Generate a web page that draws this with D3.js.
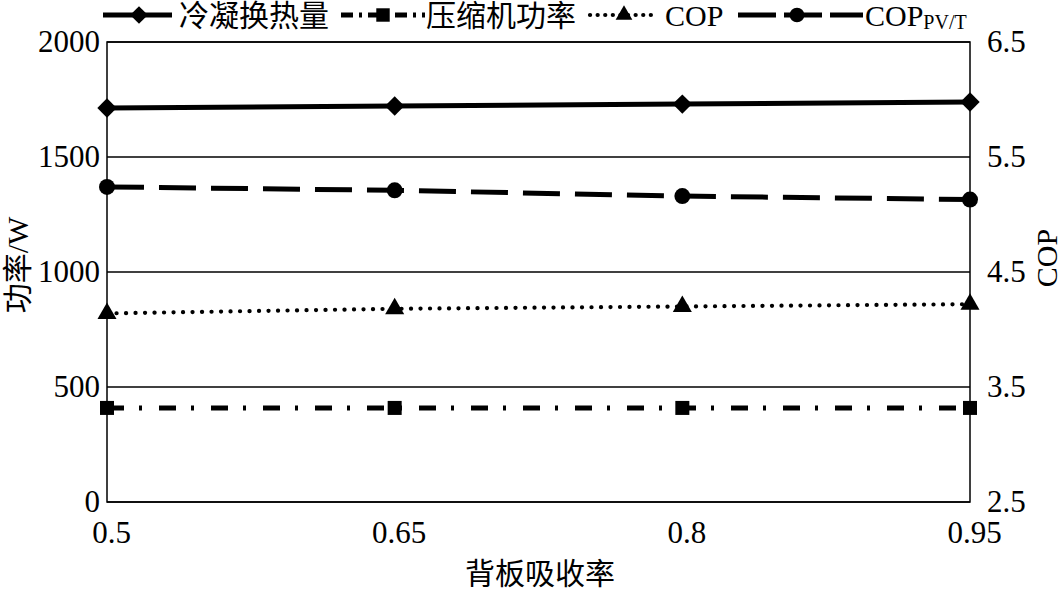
<!DOCTYPE html>
<html><head><meta charset="utf-8">
<script src="https://cdn.jsdelivr.net/npm/d3@7"></script>
<style>
html,body{margin:0;padding:0;background:#fff;}
svg text{font-family:"Liberation Serif","Times New Roman","Noto Sans CJK SC",serif;fill:#000;}
</style></head>
<body>
<svg id="chart" width="1064" height="592"></svg>
<script>
const xValues = [0.5, 0.65, 0.8, 0.95];
const xTickLabels = ["0.5", "0.65", "0.8", "0.95"];
const condenserHeat = [1713, 1722, 1730, 1739];
const compressorPower = [409, 409, 409, 409];
const cop = [4.14, 4.18, 4.20, 4.22];
const copPVT = [5.24, 5.21, 5.16, 5.13];
const leftTicks = [0, 500, 1000, 1500, 2000];
const rightTicks = [2.5, 3.5, 4.5, 5.5, 6.5];
const rightTickLabels = ["2.5", "3.5", "4.5", "5.5", "6.5"];
const seriesNames = ["冷凝换热量", "压缩机功率", "COP", "COP"];

const FONT = '"Liberation Serif","Times New Roman","Noto Sans CJK SC",serif';
const svg = d3.select("#chart");
const L = 107, R = 970, T = 42, B = 502;
const x = d3.scaleLinear().domain([0.5, 0.95]).range([L, R]);
const yL = d3.scaleLinear().domain([0, 2000]).range([B, T]);
const yR = d3.scaleLinear().domain([2.5, 6.5]).range([B, T]);

// gridlines
svg.append("g").selectAll("line").data(leftTicks).join("line")
  .attr("x1", L).attr("x2", R).attr("y1", d => yL(d)).attr("y2", d => yL(d))
  .attr("stroke", "#000").attr("stroke-width", 1.3);
// frame
svg.append("rect").attr("x", L).attr("y", T).attr("width", R - L).attr("height", B - T)
  .attr("fill", "none").attr("stroke", "#000").attr("stroke-width", 1.5);

// axes via d3
const fs = 30, tfs = 31;
const axL = svg.append("g").attr("transform", `translate(${L},0)`)
  .call(d3.axisLeft(yL).tickValues(leftTicks).tickSize(0).tickPadding(7).tickFormat(d3.format("d")));
const axR = svg.append("g").attr("transform", `translate(${R},0)`)
  .call(d3.axisRight(yR).tickValues(rightTicks).tickSize(0).tickPadding(17).tickFormat((d, i) => rightTickLabels[i]));
const axB = svg.append("g").attr("transform", `translate(0,${B})`)
  .call(d3.axisBottom(x).tickValues(xValues).tickSize(0).tickPadding(19).tickFormat((d, i) => xTickLabels[i]));
[axL, axR, axB].forEach(a => {
  a.attr("font-family", FONT).attr("font-size", tfs);
  a.select(".domain").remove();
  a.selectAll("text").attr("font-family", FONT).attr("font-size", tfs).attr("fill", "#000");
});
axB.selectAll("text").attr("dx", 4);

// series
const series = [
  {vals: condenserHeat, y: yL, dash: null, marker: "diamond"},
  {vals: compressorPower, y: yL, dash: "17,15,3,17", marker: "square"},
  {vals: cop, y: yR, dash: "0.1,9.4", cap: "round", width: 4.2, marker: "triangle"},
  {vals: copPVT, y: yR, dash: "37,15", marker: "circle"}
];
const symbolFor = {
  diamond: d3.symbol().type(d3.symbolDiamond2).size(240),
  square: d3.symbol().type(d3.symbolSquare2).size(250),
  triangle: d3.symbol().type(d3.symbolTriangle2).size(260),
  circle: d3.symbol().type(d3.symbolCircle).size(200)
};
const legSymbol = {
  diamond: d3.symbol().type(d3.symbolDiamond2).size(200),
  square: d3.symbol().type(d3.symbolSquare2).size(230),
  triangle: d3.symbol().type(d3.symbolTriangle2).size(200),
  circle: d3.symbol().type(d3.symbolCircle).size(170)
};
function drawMarker(g, type, cx, cy, tbl) {
  g.append("path").attr("d", (tbl || symbolFor)[type]()).attr("transform", `translate(${cx},${cy})`)
    .attr("fill", "#000");
}
const line = yS => d3.line().x((d, i) => x(xValues[i])).y(d => yS(d));
series.forEach(s => {
  const g = svg.append("g");
  g.append("path").datum(s.vals).attr("d", line(s.y)).attr("fill", "none")
    .attr("stroke", "#000").attr("stroke-width", s.width || 5)
    .attr("stroke-linecap", s.cap || "butt")
    .attr("stroke-dasharray", s.dash);
  s.vals.forEach((v, i) => drawMarker(g, s.marker, x(xValues[i]), s.y(v)));
});

// legend
const leg = svg.append("g");
const legItems = [
  {x1: 103, x2: 172, m: 139, dash: null, marker: "diamond", tx: 179, label: seriesNames[0]},
  {x1: 341, x2: 425, m: 383, dash: "12,6,3,6", marker: "square", tx: 426, label: seriesNames[1]},
  {x1: 590, x2: 654, m: 624, dash: "0.1,7.5", cap: "round", width: 4.2, marker: "triangle", tx: 665, label: seriesNames[2]},
  {x1: 738, x2: 863, m: 797, dash: "38,8", marker: "circle", tx: 865, label: seriesNames[3], sub: "PV/T"}
];
const ly = 15;
legItems.forEach(it => {
  leg.append("line").attr("x1", it.x1).attr("x2", it.x2).attr("y1", ly).attr("y2", ly)
    .attr("stroke", "#000").attr("stroke-width", it.width || 5)
    .attr("stroke-linecap", it.cap || "butt").attr("stroke-dasharray", it.dash);
  drawMarker(leg, it.marker, it.m, ly, legSymbol);
  const t = leg.append("text").attr("x", it.tx).attr("y", 26).attr("font-size", fs).text(it.label);
  if (it.sub) t.append("tspan").attr("dy", 3).attr("font-size", 20).text(it.sub);
});

// axis titles
svg.append("text").attr("transform", "translate(28,265) rotate(-90)").attr("text-anchor", "middle")
  .attr("font-size", fs).text("功率/W");
svg.append("text").attr("transform", "translate(1057,258) rotate(-90)").attr("text-anchor", "middle")
  .attr("font-size", fs).text("COP");
svg.append("text").attr("x", 540).attr("y", 584).attr("text-anchor", "middle")
  .attr("font-size", fs).text("背板吸收率");
</script>
</body></html>
